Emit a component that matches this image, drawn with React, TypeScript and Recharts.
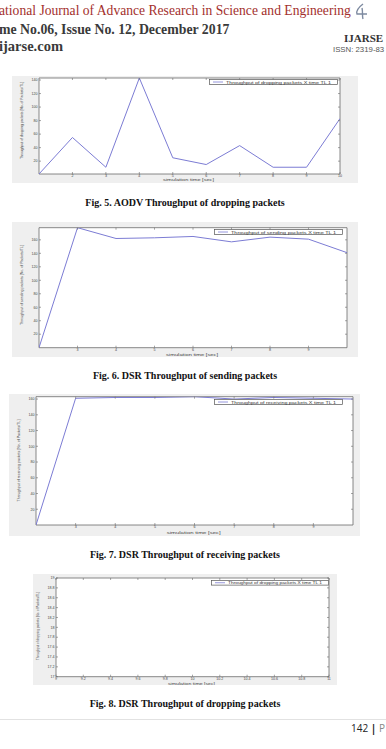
import React from "react";
import {
  CartesianGrid,
  Legend,
  Line,
  LineChart,
  ReferenceArea,
  XAxis,
  YAxis,
} from "recharts";

// Fig. 5 - AODV
const AODV_TIME = [1, 2, 3, 4, 5, 6, 7, 8, 9, 10];
const AODV_DROPPED = [1, 55, 11, 143, 25, 15, 43, 11, 11, 83];
const AODV_X_TICKS = [2, 3, 4, 5, 6, 7, 8, 9, 10];
const AODV_Y_TICKS = [20, 40, 60, 80, 100, 120, 140];

// Fig. 6 / 7 - DSR
const DSR_TIME = [2, 3, 4, 5, 6, 7, 8, 9, 10];
const DSR_SENT = [0, 178, 162, 163, 165, 157, 164, 161, 141];
const DSR_RECEIVED = [0, 161, 162, 162, 163, 160, 162, 161, 160];
const DSR_X_TICKS = [3, 4, 5, 6, 7, 8, 9];
const DSR_Y_TICKS = [20, 40, 60, 80, 100, 120, 140, 160];

// Fig. 8 - DSR dropped (one sample only, so no visible line)
const DSR_DROP_TIME = [10];
const DSR_DROPPED = [18];
const DROP_X_TICKS = [9, 9.2, 9.4, 9.6, 9.8, 10, 10.2, 10.4, 10.6, 10.8, 11];
const DROP_Y_TICKS = [17, 17.2, 17.4, 17.6, 17.8, 18, 18.2, 18.4, 18.6, 18.8, 19];

const LINE_COLOR = "#7c7cd4";
const BOX_COLOR = "#6a6a6a";
const TINY_FONT = "'Liberation Sans', Arial, sans-serif";
const SERIF = "'Liberation Serif', 'Times New Roman', serif";

type Box = { x: number; y: number; w: number; h: number };
type Plot = { l: number; t: number; r: number; b: number };

type FigProps = {
  panel: Box;
  plot: Plot;
  xs: number[];
  ys: number[];
  xDomain: [number, number];
  yDomain: [number, number];
  xTicks: number[];
  yTicks: number[];
  name: string;
  legend: Box;
  yTitle: string;
  yTitlePos: [number, number, number];
  xTitlePos: [number, number, number];
  tickSize: number;
};

// matlab plot() without markers: a lone sample shows nothing
const noDot = (props: any) => <g key={`d-${props.index}`} />;

function Fig(p: FigProps) {
  const { panel, plot } = p;
  const left = plot.l - panel.x;
  const top = plot.t - panel.y;
  const right = panel.x + panel.w - plot.r;
  const bottom = panel.y + panel.h - plot.b;
  const pb = panel.h - bottom;
  const pr = panel.w - right;

  const data = p.xs.map((x, i) => ({ x, y: p.ys[i] }));

  const xTick = (props: any) => {
    const { x, payload } = props;
    return (
      <g>
        <line x1={x} x2={x} y1={pb} y2={pb - 2} stroke={BOX_COLOR} strokeWidth={0.6} />
        <line x1={x} x2={x} y1={top} y2={top + 2} stroke={BOX_COLOR} strokeWidth={0.6} />
        <text
          x={x}
          y={pb + 0.6}
          dy="0.71em"
          textAnchor="middle"
          fontSize={p.tickSize}
          fontFamily={TINY_FONT}
          fill="#444"
        >
          {payload.value}
        </text>
      </g>
    );
  };

  const yTick = (props: any) => {
    const { y, payload } = props;
    return (
      <g>
        <line x1={left} x2={left + 2} y1={y} y2={y} stroke={BOX_COLOR} strokeWidth={0.6} />
        <line x1={pr - 2} x2={pr} y1={y} y2={y} stroke={BOX_COLOR} strokeWidth={0.6} />
        <text
          x={left - 1.6}
          y={y}
          dy="0.35em"
          textAnchor="end"
          fontSize={p.tickSize}
          fontFamily={TINY_FONT}
          fill="#444"
        >
          {payload.value}
        </text>
      </g>
    );
  };

  const [ytx, yty, ytLen] = p.yTitlePos;
  const [xtx, xty, xtLen] = p.xTitlePos;

  return (
    <div
      style={{
        position: "absolute",
        left: panel.x,
        top: panel.y,
        width: panel.w,
        height: panel.h,
        background: "#efefef",
      }}
    >
      <LineChart
        width={panel.w}
        height={panel.h}
        data={data}
        margin={{ top, right, bottom: 0, left: 0 }}
      >
        <CartesianGrid horizontal={false} vertical={false} fill="#ffffff" />
        <XAxis
          dataKey="x"
          type="number"
          domain={p.xDomain}
          ticks={p.xTicks}
          interval={0}
          height={bottom}
          axisLine={false}
          tickLine={false}
          tick={xTick}
          allowDataOverflow
          label={{
            content: () => (
              <text
                x={xtx - panel.x}
                y={xty - panel.y}
                dy="0.35em"
                textAnchor="middle"
                fontSize={4.2}
                fontFamily={TINY_FONT}
                fill="#444"
                textLength={xtLen}
                lengthAdjust="spacingAndGlyphs"
              >
                simulation time [sec]
              </text>
            ),
          }}
        />
        <YAxis
          type="number"
          domain={p.yDomain}
          ticks={p.yTicks}
          interval={0}
          width={left}
          axisLine={false}
          tickLine={false}
          tick={yTick}
          allowDataOverflow
          label={{
            content: () => (
              <text
                transform={`translate(${ytx - panel.x},${yty - panel.y}) rotate(-90)`}
                dy="0.35em"
                textAnchor="middle"
                fontSize={3.6}
                fontFamily={TINY_FONT}
                fill="#444"
                textLength={ytLen}
                lengthAdjust="spacingAndGlyphs"
              >
                {p.yTitle}
              </text>
            ),
          }}
        />
        <ReferenceArea
          x1={p.xDomain[0]}
          x2={p.xDomain[1]}
          y1={p.yDomain[0]}
          y2={p.yDomain[1]}
          fill="none"
          stroke={BOX_COLOR}
          strokeWidth={0.8}
        />
        <Line
          type="linear"
          dataKey="y"
          name={p.name}
          stroke={LINE_COLOR}
          strokeWidth={1}
          dot={noDot}
          activeDot={false}
          isAnimationActive={false}
        />
        <Legend
          layout="horizontal"
          align="center"
          verticalAlign="middle"
          wrapperStyle={{
            left: p.legend.x - panel.x,
            top: p.legend.y - panel.y,
            width: p.legend.w,
            height: p.legend.h,
            lineHeight: 0,
          }}
          content={() => (
            <svg width={p.legend.w} height={p.legend.h} style={{ display: "block" }}>
              <rect
                x={0.4}
                y={0.4}
                width={p.legend.w - 0.8}
                height={p.legend.h - 0.8}
                fill="#fff"
                stroke="#555"
                strokeWidth={0.7}
              />
              <line
                x1={4}
                x2={14}
                y1={p.legend.h / 2}
                y2={p.legend.h / 2}
                stroke={LINE_COLOR}
                strokeWidth={0.8}
              />
              <text
                x={17}
                y={p.legend.h / 2}
                dy="0.35em"
                fontSize={4.4}
                fontFamily={TINY_FONT}
                fill="#333"
                textLength={p.legend.w - 24}
                lengthAdjust="spacingAndGlyphs"
              >
                {p.name}
              </text>
            </svg>
          )}
        />
      </LineChart>
    </div>
  );
}

function Caption({ y, text }: { y: number; text: string }) {
  return (
    <div
      style={{
        position: "absolute",
        left: 0,
        top: y - 6,
        width: 370,
        height: 12,
        lineHeight: "12px",
        textAlign: "center",
        fontFamily: SERIF,
        fontWeight: 700,
        fontSize: 10,
        color: "#111",
        whiteSpace: "nowrap",
      }}
    >
      {text}
    </div>
  );
}

export default function App() {
  return (
    <div
      style={{
        position: "absolute",
        left: 0,
        top: 0,
        width: 386,
        height: 749,
        overflow: "hidden",
        background: "#fff",
      }}
    >
      {/* page header */}
      <div
        style={{
          position: "absolute",
          left: -1,
          top: 3,
          fontFamily: SERIF,
          fontSize: 13.6,
          lineHeight: "16px",
          color: "#a3302d",
          whiteSpace: "nowrap",
        }}
      >
        ational Journal of Advance Research in Science and Engineering
      </div>
      <div
        style={{
          position: "absolute",
          left: -1,
          top: 22,
          fontFamily: SERIF,
          fontWeight: 700,
          fontSize: 13.8,
          lineHeight: "16px",
          color: "#3a3a3a",
          whiteSpace: "nowrap",
        }}
      >
        me No.06, Issue No. 12, December 2017
      </div>
      <div
        style={{
          position: "absolute",
          left: -1,
          top: 38,
          fontFamily: SERIF,
          fontWeight: 700,
          fontSize: 14.5,
          lineHeight: "16px",
          color: "#3a3a3a",
          whiteSpace: "nowrap",
        }}
      >
        ijarse.com
      </div>
      <svg
        style={{ position: "absolute", left: 354, top: 3 }}
        width={16}
        height={17}
        viewBox="0 0 16 17"
      >
        <path
          d="M9 1 C5 4 2 8 3 11 L13 11 M8 5 C9 9 8 13 9 16"
          fill="none"
          stroke="#7d8aa0"
          strokeWidth={1.4}
        />
      </svg>
      <div
        style={{
          position: "absolute",
          left: 344,
          top: 32,
          fontFamily: SERIF,
          fontWeight: 700,
          fontSize: 11,
          lineHeight: "12px",
          color: "#333",
          whiteSpace: "nowrap",
        }}
      >
        IJARSE
      </div>
      <div
        style={{
          position: "absolute",
          left: 333,
          top: 45,
          fontFamily: TINY_FONT,
          fontSize: 7.8,
          lineHeight: "10px",
          color: "#555",
          whiteSpace: "nowrap",
        }}
      >
        ISSN: 2319-83
      </div>

      <Fig
        panel={{ x: 12, y: 76, w: 346, h: 107 }}
        plot={{ l: 39, t: 78, r: 340, b: 174 }}
        xs={AODV_TIME}
        ys={AODV_DROPPED}
        xDomain={[1, 10]}
        yDomain={[1, 143]}
        xTicks={AODV_X_TICKS}
        yTicks={AODV_Y_TICKS}
        name="Throughput of dropping packets X time TL 1"
        legend={{ x: 209, y: 79, w: 129, h: 6 }}
        yTitle="Throughput of dropping packets [No. of Packets/TL]"
        yTitlePos={[21.7, 120.5, 77]}
        xTitlePos={[188.5, 179.5, 51]}
        tickSize={3.6}
      />
      <Caption y={203} text="Fig. 5. AODV Throughput of dropping packets" />

      <Fig
        panel={{ x: 12, y: 222, w: 346, h: 135 }}
        plot={{ l: 39, t: 227.7, r: 347, b: 347.7 }}
        xs={DSR_TIME}
        ys={DSR_SENT}
        xDomain={[2, 10]}
        yDomain={[0, 178]}
        xTicks={DSR_X_TICKS}
        yTicks={DSR_Y_TICKS}
        name="Throughput of sending packets X time TL 1"
        legend={{ x: 214, y: 228.5, w: 129, h: 6 }}
        yTitle="Throughput of sending packets [No. of Packets/TL]"
        yTitlePos={[21.7, 285, 80]}
        xTitlePos={[192, 355, 52]}
        tickSize={3.6}
      />
      <Caption y={375.7} text="Fig. 6. DSR Throughput of sending packets" />

      <Fig
        panel={{ x: 9, y: 394, w: 351, h: 142 }}
        plot={{ l: 36, t: 396.7, r: 353, b: 525 }}
        xs={DSR_TIME}
        ys={DSR_RECEIVED}
        xDomain={[2, 10]}
        yDomain={[0, 163]}
        xTicks={DSR_X_TICKS}
        yTicks={DSR_Y_TICKS}
        name="Throughput of receiving packets X time TL 1"
        legend={{ x: 214, y: 399, w: 129, h: 6 }}
        yTitle="Throughput of receiving packets [No. of Packets/TL]"
        yTitlePos={[18.3, 460.5, 82]}
        xTitlePos={[193.7, 533, 54]}
        tickSize={3.6}
      />
      <Caption y={555} text="Fig. 7. DSR Throughput of receiving packets" />

      <Fig
        panel={{ x: 33, y: 574, w: 304, h: 111 }}
        plot={{ l: 56, t: 578, r: 329, b: 676.7 }}
        xs={DSR_DROP_TIME}
        ys={DSR_DROPPED}
        xDomain={[9, 11]}
        yDomain={[17, 19]}
        xTicks={DROP_X_TICKS}
        yTicks={DROP_Y_TICKS}
        name="Throughput of dropping packets X time TL 1"
        legend={{ x: 211, y: 580, w: 118, h: 5.5 }}
        yTitle="Throughput of dropping packets [No. of Packets/TL]"
        yTitlePos={[38, 626, 68]}
        xTitlePos={[191.5, 683.3, 47]}
        tickSize={3.6}
      />
      <Caption y={704} text="Fig. 8. DSR Throughput of dropping packets" />

      {/* page footer */}
      <div
        style={{
          position: "absolute",
          left: 0,
          top: 719,
          width: 386,
          height: 1,
          background: "#e2e2e2",
        }}
      />
      <div
        style={{
          position: "absolute",
          left: 351,
          top: 722,
          fontFamily: "'Open Sans', 'Liberation Sans', sans-serif",
          fontSize: 10,
          lineHeight: "12px",
          color: "#222",
          whiteSpace: "nowrap",
        }}
      >
        142 <span style={{ fontWeight: 700 }}>|</span>{" "}
        <span style={{ color: "#888" }}>P</span>
      </div>
    </div>
  );
}
